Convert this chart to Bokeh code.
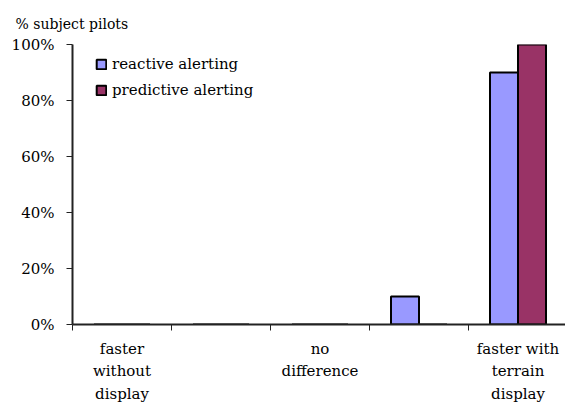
from bokeh.plotting import figure
from bokeh.models import Range1d, FixedTicker, PrintfTickFormatter, Legend, LegendItem, ColumnDataSource
from bokeh.transform import dodge
from bokeh.embed import file_html
from bokeh.resources import INLINE

# ---- data ----
categories = [1, 2, 3, 4, 5]
tick_labels = {1: "faster\nwithout\ndisplay", 3: "no\ndifference", 5: "faster with\nterrain\ndisplay"}
reactive = [0, 0, 0, 10, 90]
predictive = [0, 0, 0, 0, 100]
series_names = ["reactive alerting", "predictive alerting"]
y_ticks = [0, 20, 40, 60, 80, 100]

FONT = "DejaVu Serif"
W, H = 565, 405
LEFT, TOP, BOTTOM = 72, 43, 80
PX_PER_CAT = 99.0
frame_w = W - LEFT

src = ColumnDataSource(data=dict(x=categories, reactive=reactive, predictive=predictive))

p = figure(width=W, height=H, output_backend="svg", toolbar_location=None,
           x_range=Range1d(0.5, 0.5 + frame_w / PX_PER_CAT), y_range=Range1d(0, 100),
           min_border_left=LEFT, min_border_right=0, min_border_top=TOP, min_border_bottom=BOTTOM)
p.outline_line_color = None
p.background_fill_color = "white"

bw = 28 / PX_PER_CAT
r1 = p.vbar(x=dodge("x", -bw / 2, range=p.x_range), top="reactive", width=bw, source=src,
            fill_color="#9999FF", line_color="black", line_width=2)
r2 = p.vbar(x=dodge("x", bw / 2, range=p.x_range), top="predictive", width=bw, source=src,
            fill_color="#993366", line_color="black", line_width=2)

legend = Legend(items=[LegendItem(label=series_names[0], renderers=[r1]),
                       LegendItem(label=series_names[1], renderers=[r2])],
                location=(23, 224), glyph_width=12, glyph_height=12, label_height=20,
                spacing=6, padding=0, margin=0, label_standoff=5,
                border_line_alpha=0, background_fill_alpha=0,
                label_text_font=FONT, label_text_font_size="15px", label_text_color="black")
p.add_layout(legend)

# title as y-axis caption
p.title.text = "% subject pilots"
p.title.align = "left"
p.title.offset = -57
p.title.standoff = 26
p.title.text_font = FONT
p.title.text_font_size = "14px"
p.title.text_font_style = "normal"
p.title.text_color = "black"

# grids
p.xgrid.visible = False
p.ygrid.ticker = FixedTicker(ticks=[100])
p.ygrid.grid_line_color = "#999999"
p.ygrid.grid_line_width = 2

# x axis
xa = p.xaxis[0]
xa.ticker = FixedTicker(ticks=[1, 3, 5], minor_ticks=[0.5, 1.5, 2.5, 3.5, 4.5, 5.5])
xa.major_label_overrides = tick_labels
xa.major_tick_line_color = None
xa.major_tick_out = 0
xa.major_tick_in = 0
xa.minor_tick_out = 6
xa.minor_tick_in = 0
xa.minor_tick_line_color = "#222222"
xa.minor_tick_line_width = 1
xa.axis_line_color = "#222222"
xa.axis_line_width = 2
xa.major_label_standoff = 9
xa.major_label_text_font = FONT
xa.major_label_text_font_size = "15px"
xa.major_label_text_color = "black"
xa.major_label_text_line_height = 1.25

# y axis
ya = p.yaxis[0]
ya.ticker = FixedTicker(ticks=y_ticks)
ya.formatter = PrintfTickFormatter(format="%d%%")
ya.major_tick_out = 6
ya.major_tick_in = 0
ya.minor_tick_line_color = None
ya.major_tick_line_color = "#222222"
ya.major_tick_line_width = 1
ya.axis_line_color = "#222222"
ya.axis_line_width = 2
ya.major_label_standoff = 12
ya.major_label_text_font = FONT
ya.major_label_text_font_size = "15px"
ya.major_label_text_color = "black"

open("out.html", "w").write(file_html(p, INLINE))
